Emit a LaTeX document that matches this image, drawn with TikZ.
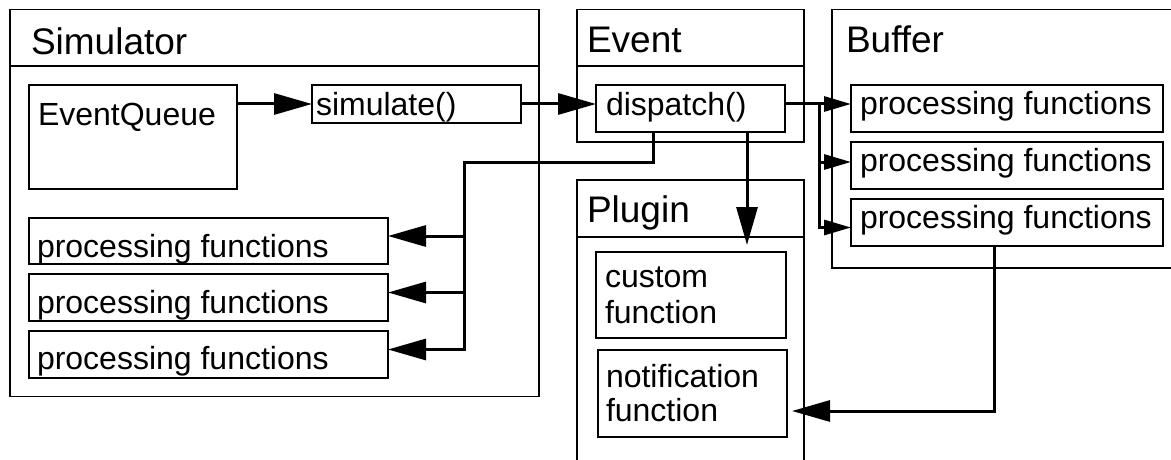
\documentclass[tikz,border=0pt]{standalone}
\usepackage{fontspec}
\setmainfont{Liberation Sans}
\usetikzlibrary{arrows.meta,calc}
\tikzset{
  box/.style={draw=black, line width=1.4pt, inner sep=0pt, outer sep=0pt, anchor=north west},
  boxline/.style={draw=black, line width=1.4pt},
  lbl/.style={anchor=base west, inner sep=0pt, outer sep=0pt, font=\fontsize{32}{36}\selectfont},
  ttl/.style={anchor=base west, inner sep=0pt, outer sep=0pt, font=\fontsize{37}{40}\selectfont},
  conn/.style={draw=black, line width=3pt},
  bigtip/.style={-{Triangle[length=38pt,width=21pt]}},
  smalltip/.style={-{Triangle[length=27pt,width=15pt]}},
}
\begin{document}
\begin{tikzpicture}[x=1pt,y=-1pt]
\useasboundingbox (0,0) rectangle (1171,460);

% containers
\node[box, minimum width=529pt, minimum height=387pt] (simc) at (10,9.5) {};
\node[box, minimum width=227pt, minimum height=132.5pt] (evtc) at (577,9.5) {};
\node[box, minimum width=340pt, minimum height=258.5pt] (bufc) at (832,9.5) {};
\node[box, minimum width=227pt, minimum height=280.5pt] (plgc) at (577,180) {};
\draw[boxline] ($(simc.north west)+(0,56.5)$) -- ($(simc.north east)+(0,56.5)$);
\draw[boxline] ($(evtc.north west)+(0,56.5)$) -- ($(evtc.north east)+(0,56.5)$);
\draw[boxline] ($(plgc.north west)+(0,57)$) -- ($(plgc.north east)+(0,57)$);

\node[ttl] (simt) at (31,55) {Simulator};
\node[ttl] (evtt) at (587,53) {Event};
\node[ttl] (buft) at (846,53) {Buffer};
\node[ttl] (plgt) at (587,222) {Plugin};

% inner boxes
\node[box, minimum width=208pt, minimum height=104pt] (eq) at (29,85) {};
\node[box, minimum width=209pt, minimum height=38pt] (sim) at (312,85) {};
\node[box, minimum width=189pt, minimum height=47pt] (disp) at (596,85) {};
\node[box, minimum width=312pt, minimum height=47pt] (b1) at (851,85) {};
\node[box, minimum width=312pt, minimum height=47pt] (b2) at (851,142) {};
\node[box, minimum width=312pt, minimum height=47pt] (b3) at (851,199) {};
\node[box, minimum width=359pt, minimum height=46pt] (p1) at (29,218) {};
\node[box, minimum width=359pt, minimum height=47pt] (p2) at (29,274) {};
\node[box, minimum width=359pt, minimum height=47pt] (p3) at (29,331) {};
\node[box, minimum width=190pt, minimum height=86pt] (cf) at (596,252) {};
\node[box, minimum width=189pt, minimum height=87pt] (nf) at (598,350) {};

\node[lbl] (eqt) at (38,125) {EventQueue};
\node[lbl] (simtx) at (316,115) {simulate()};
\node[lbl] (dispt) at (606,115) {dispatch()};
\node[lbl] (b1t) at (860,114) {processing functions};
\node[lbl] (b2t) at (860,171) {processing functions};
\node[lbl] (b3t) at (860,228) {processing functions};
\node[lbl] (p1t) at (37,257) {processing functions};
\node[lbl] (p2t) at (37,313) {processing functions};
\node[lbl] (p3t) at (37,369) {processing functions};
\node[lbl] (cft1) at (605,287) {custom};
\node[lbl] (cft2) at (605,323) {function};
\node[lbl] (nft1) at (606,387) {notification};
\node[lbl] (nft2) at (606,421) {function};

% connectors
\draw[conn,bigtip] (eq.east |- sim.west) -- (sim.west);
\draw[conn,bigtip] (sim.east) -- (sim.east -| disp.west);

\coordinate (bj) at (819,104);
\coordinate (b2a) at ($(b2.west)+(0,-3.5)$);
\coordinate (b3a) at ($(b3.west)+(0,5)$);
\draw[conn,smalltip] (disp.east |- bj) -- (bj -| b1.west);
\draw[conn,smalltip] (bj |- b2a) -- (b2a);
\draw[conn,smalltip] (bj) |- (b3a);

\coordinate (sj) at (464,162);
\coordinate (p1a) at ($(p1.east)+(0,-5)$);
\coordinate (p2a) at ($(p2.east)+(0,-5)$);
\coordinate (p3a) at ($(p3.east)+(0,-5)$);
\draw[conn,bigtip] ($(disp.south)+(-37.5,0)$) |- (sj) -- (sj |- p3a) -- (p3a);
\draw[conn,bigtip] (sj |- p1a) -- (p1a);
\draw[conn,bigtip] (sj |- p2a) -- (p2a);

\coordinate (pa) at ($(disp.south)+(56.5,0)$);
\draw[conn,bigtip] (pa) -- ($(pa |- cf.north)+(0,-7)$);

\draw[conn,bigtip] ($(b3.south)+(-13,0)$) |- ($(nf.east)+(5,17.5)$);
\end{tikzpicture}
\end{document}
